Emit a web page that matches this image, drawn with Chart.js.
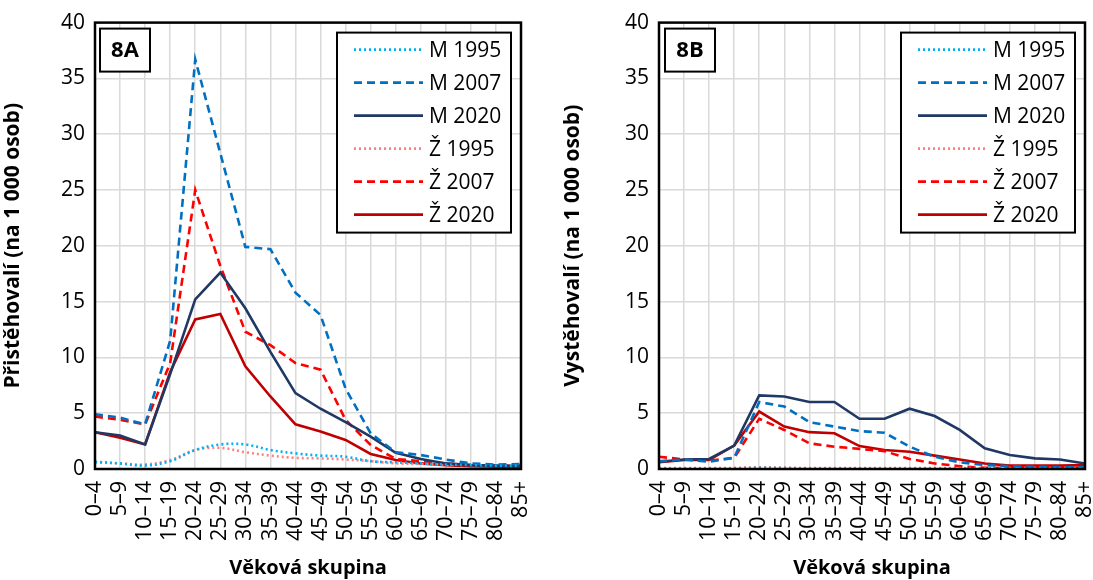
<!DOCTYPE html>
<html>
<head>
<meta charset="utf-8">
<script src="https://cdn.jsdelivr.net/npm/chart.js@4.4.1/dist/chart.umd.min.js"></script>
<style>
  html, body { margin: 0; padding: 0; background: #ffffff; }
  .panel { position: absolute; top: 0; }
  #panel-a { left: 0; width: 546px; height: 580px; }
  #panel-b { left: 560px; width: 533px; height: 580px; }
</style>
</head>
<body>
<div class="panel" id="panel-a"><canvas id="chart-a" width="546" height="580"></canvas></div>
<div class="panel" id="panel-b"><canvas id="chart-b" width="533" height="580"></canvas></div>
<script>
// Věkové skupiny
const ageGroups = ['0–4', '5–9', '10–14', '15–19', '20–24', '25–29', '30–34', '35–39', '40–44',
    '45–49', '50–54', '55–59', '60–64', '65–69', '70–74', '75–79', '80–84', '85+'];

const yTicks = [0, 5, 10, 15, 20, 25, 30, 35, 40];

// 8A – přistěhovalí
const inM1995 = [0.65, 0.5, 0.3, 0.7, 1.7, 2.2, 2.2, 1.7, 1.4, 1.2, 1.1, 0.7, 0.6, 0.5, 0.4, 0.35, 0.3, 0.3];
const inM2007 = [4.9, 4.6, 4.0, 11.5, 36.7, 28.3, 19.9, 19.7, 15.8, 13.8, 7.2, 3.2, 1.5, 1.25, 0.85, 0.5, 0.4, 0.45];
const inM2020 = [3.3, 3.0, 2.2, 8.5, 15.2, 17.6, 14.4, 10.5, 6.8, 5.4, 4.2, 2.9, 1.45, 0.9, 0.5, 0.35, 0.3, 0.25];
const inZ1995 = [0.6, 0.5, 0.4, 0.8, 1.7, 1.9, 1.5, 1.2, 1.0, 0.95, 0.85, 0.7, 0.5, 0.45, 0.4, 0.35, 0.3, 0.3];
const inZ2007 = [4.7, 4.4, 4.0, 9.5, 25.0, 18.2, 12.3, 11.1, 9.5, 8.9, 4.4, 2.15, 0.9, 0.7, 0.5, 0.35, 0.3, 0.3];
const inZ2020 = [3.3, 2.8, 2.2, 8.7, 13.4, 13.9, 9.2, 6.5, 4.0, 3.35, 2.6, 1.35, 0.8, 0.5, 0.35, 0.25, 0.2, 0.2];

// 8B – vystěhovalí
const outM1995 = [0.05, 0.05, 0.05, 0.05, 0.1, 0.08, 0.05, 0.05, 0.05, 0.05, 0.05, 0.05, 0.05, 0.05, 0.05, 0.05, 0.05, 0.05];
const outM2007 = [0.7, 0.85, 0.65, 1.0, 6.0, 5.6, 4.2, 3.8, 3.4, 3.25, 2.0, 1.1, 0.6, 0.35, 0.25, 0.2, 0.15, 0.15];
const outM2020 = [0.65, 0.85, 0.9, 2.1, 6.6, 6.5, 6.0, 6.0, 4.5, 4.5, 5.4, 4.75, 3.5, 1.85, 1.25, 0.95, 0.85, 0.5];
const outZ1995 = [0.08, 0.08, 0.08, 0.1, 0.15, 0.12, 0.08, 0.08, 0.08, 0.08, 0.08, 0.08, 0.08, 0.08, 0.08, 0.08, 0.08, 0.08];
const outZ2007 = [1.1, 0.85, 0.75, 1.0, 4.5, 3.5, 2.3, 2.0, 1.8, 1.6, 0.9, 0.5, 0.25, 0.1, 0.1, 0.1, 0.1, 0.1];
const outZ2020 = [0.6, 0.8, 0.8, 2.1, 5.15, 3.8, 3.3, 3.2, 2.05, 1.7, 1.55, 1.2, 0.85, 0.5, 0.3, 0.3, 0.3, 0.35];

const seriesLabels = ['M 1995', 'M 2007', 'M 2020', 'Ž 1995', 'Ž 2007', 'Ž 2020'];
const seriesColors = ['#00B0F0', '#0070C0', '#203864', '#FF8080', '#FF0000', '#C00000'];
const seriesDash = [[2, 3], [8, 5], [], [2, 3], [8, 5], []];

const FONT = '"Open Sans", "Liberation Sans", sans-serif';

function buildDatasets(values) {
    return values.map((data, i) => ({
        label: seriesLabels[i],
        data: data,
        borderColor: seriesColors[i],
        backgroundColor: seriesColors[i],
        borderDash: seriesDash[i],
        borderWidth: 2.6,
        pointRadius: 0,
        tension: seriesDash[i][0] === 2 ? 0.35 : 0,
        fill: false
    }));
}

// rámeček grafu, štítek panelu a legenda uvnitř plochy grafu
const framePlugin = {
    id: 'frame',
    afterDraw(chart, args, opts) {
        const ctx = chart.ctx;
        const a = chart.chartArea;
        ctx.save();
        ctx.strokeStyle = '#000000';
        ctx.lineWidth = 2.5;
        ctx.setLineDash([]);
        ctx.strokeRect(a.left, a.top, a.right - a.left, a.bottom - a.top);

        // štítek 8A / 8B
        const px = a.left + opts.tagDx, py = a.top + 6;
        ctx.fillStyle = '#ffffff';
        ctx.fillRect(px, py, 50, 43);
        ctx.lineWidth = 2;
        ctx.strokeRect(px, py, 50, 43);
        ctx.fillStyle = '#000000';
        ctx.font = 'bold 22px ' + FONT;
        ctx.textAlign = 'center';
        ctx.textBaseline = 'middle';
        ctx.fillText(opts.tag, px + 25, py + 22);

        // legenda
        const bw = 174, bh = 200;
        const bx = a.right - 10 - bw, by = a.top + 10;
        ctx.fillStyle = '#ffffff';
        ctx.fillRect(bx, by, bw, bh);
        ctx.strokeRect(bx, by, bw, bh);
        ctx.font = '21px ' + FONT;
        ctx.textAlign = 'left';
        chart.data.datasets.forEach((ds, i) => {
            const y = by + 17 + i * 33;
            ctx.strokeStyle = ds.borderColor;
            ctx.lineWidth = 2.6;
            ctx.setLineDash(ds.borderDash);
            ctx.beginPath();
            ctx.moveTo(bx + 17, y);
            ctx.lineTo(bx + 86, y);
            ctx.stroke();
            ctx.setLineDash([]);
            ctx.fillStyle = '#000000';
            ctx.fillText(ds.label, bx + 92, y + 1);
        });
        ctx.restore();
    }
};

function makeChart(canvasId, values, yTitle, tag, yWidth, padRight, tagDx) {
    const ctx = document.getElementById(canvasId).getContext('2d');
    return new Chart(ctx, {
        type: 'line',
        data: { labels: ageGroups, datasets: buildDatasets(values) },
        plugins: [framePlugin],
        options: {
            responsive: false,
            animation: false,
            layout: { padding: { top: 14, right: padRight, bottom: 0, left: 0 } },
            plugins: {
                legend: { display: false },
                tooltip: { enabled: false },
                frame: { tag: tag, tagDx: tagDx }
            },
            scales: {
                x: {
                    offset: false,
                    afterFit(scale) {
                        scale.height = 111;
                        scale.paddingLeft = 0;
                        scale.paddingRight = 0;
                    },
                    grid: { color: '#D9D9D9', lineWidth: 1.5, drawTicks: false, offset: false },
                    border: { display: false },
                    ticks: {
                        autoSkip: false, maxRotation: 90, minRotation: 90, padding: 12,
                        color: '#000000', font: { family: FONT, size: 21.5 }
                    },
                    title: {
                        display: true, text: 'Věková skupina', color: '#000000',
                        font: { family: FONT, size: 20, weight: 'bold' }, padding: { top: 4, bottom: 0 }
                    }
                },
                y: {
                    min: 0, max: 40,
                    afterBuildTicks(scale) { scale.ticks = yTicks.map(v => ({ value: v })); },
                    afterFit(scale) { scale.width = yWidth; },
                    grid: { color: '#D9D9D9', lineWidth: 1.5, drawTicks: false },
                    border: { display: false },
                    ticks: { padding: 10, color: '#000000', font: { family: FONT, size: 21 } },
                    title: {
                        display: true, text: yTitle, color: '#000000',
                        font: { family: FONT, size: 21, weight: 'bold' }, padding: { top: 0, bottom: 4 }
                    }
                }
            }
        }
    });
}

makeChart('chart-a', [inM1995, inM2007, inM2020, inZ1995, inZ2007, inZ2020],
    'Přistěhovalí (na 1 000 osob)', '8A', 95, 25, 5);
makeChart('chart-b', [outM1995, outM2007, outM2020, outZ1995, outZ2007, outZ2020],
    'Vystěhovalí (na 1 000 osob)', '8B', 99, 8, 6);
</script>
</body>
</html>
